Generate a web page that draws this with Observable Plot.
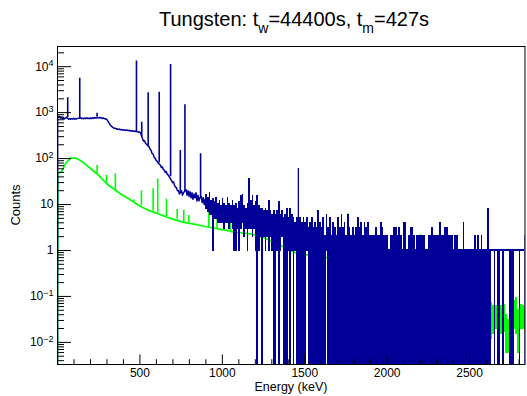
<!DOCTYPE html>
<html>
<head>
<meta charset="utf-8">
<script src="https://cdn.jsdelivr.net/npm/d3@7"></script>
<script src="https://cdn.jsdelivr.net/npm/@observablehq/plot@0.6"></script>
<style>
  html, body { margin: 0; padding: 0; background: #fff; }
  #chart { width: 527px; height: 396px; }
</style>
</head>
<body>
<div id="chart"></div>
<script>
// ---------- data ----------
// Blue spectrum: continuum part (energy keV, counts)
const blueE = [0,1,6,12,18,24,30,36,42,48,54,68,74,80,86,92,98,104,110,116,122,142,148,154,160,166,172,178,184,190,196,202,208,214,220,226,232,248,254,260,266,272,278,284,290,296,302,308,314,320,326,332,338,344,350,356,362,368,374,380,388,396,404,412,420,428,436,444,452,460,468,474,486,492,498,504,516,522,528,534,540,556,562,568,574,580,586,592,598,604,610,624,630,636,642,648,654,660,666,672,678,692,698,704,710,716,722,728,734,740,752,758,764,780,786,792,798,804,810,816,822,828,834,840,846,852,858,864,872,878,884,890,896,900];
const blueV = [0,850,800,830,760,790,740,770,730,760,790,720,745,715,740,725,750,720,745,730,750,770,740,760,735,765,740,770,745,760,735,770,745,775,750,780,760,770,790,760,775,745,765,740,735,720,690,640,580,540,510,490,470,455,460,440,445,430,438,425,430,415,425,410,418,405,412,398,405,392,398,388,385,375,380,360,270,240,245,215,205,180,160,150,128,125,108,102,92,88,80,72,64,66,58,56,50,52,45,44,40,33,30,31,26,24,23,20,20,17,20,16,18,21,16,20,15,19,14,18,13,17,14,18,12,16,12,14,15,11,14,10,13,11];
// Blue peaks: energy, continuum below, top
const bluePeakE    = [62, 135, 240, 479, 511, 550, 617, 686, 745, 773, 868];
const bluePeakBase = [780, 740, 790, 390, 300, 190, 80, 40, 18, 19, 14];
const bluePeakTop  = [2100, 5600, 975, 13300, 620, 2720, 2790, 11200, 150, 1480, 127];
// Blue noisy region: 10 keV columns from 900 keV, lowest and highest counts in each
const blueColStart = 900;
const blueLo = [
  8,7,6,6,1,5,5,4,4,4,
  4,3,4,4,3,4,3,1,1,3,
  1,3,4,2,3,1,3,3,2,3,
  1,0,1,2,0,2,1,2,1,2,
  1,0,0,1,0,1,2,0,0,0,
  1,0,1,0,1,0,0,0,0,0,
  0,1,0,0,0,0,0,0,0,0,
  0,0,0,1,0,0,0,0,0,0,
  0,0,0,0,0,0,0,0,0,0,
  0,0,0,0,0,0,0,0,0,0,
  0,0,0,0,0,0,0,0,0,0,
  0,0,0,0,0,0,0,0,0,0,
  0,0,0,0,0,0,0,0,0,0,
  0,0,0,0,0,0,0,0,0,0,
  0,0,0,0,0,0,0,0,0,0,
  0,0,0,0,0,0,0,0,0,0,
  0,0,0,0,0,0,0,0,0,0,
  0,0,0,1,1,0,1,0,0,1,
  0,1,1,1,0,0,0,1,1,1,
  0,1,1,0];
const blueHi = [
  16,14,18,12,13,11,14,10,12,9,
  13,10,9,14,10,9,12,9,10,8,
  11,15,16,9,8,10,36,12,15,9,
  11,15,9,8,8,7,8,7,12,7,
  6,7,6,7,11,6,7,5,6,8,
  5,8,6,5,4,5,58,5,4,5,
  4,5,3,4,5,3,4,3,7,4,
  3,5,2,6,3,5,2,4,3,2,
  5,3,6,3,4,2,6,3,2,3,
  2,3,5,3,4,2,4,3,4,2,
  2,2,2,3,2,2,4,3,2,2,
  2,1,2,2,3,3,2,3,2,1,
  4,4,1,2,3,3,2,1,2,2,
  2,2,2,1,1,2,2,3,2,2,
  2,2,4,2,2,3,3,2,2,2,
  1,2,2,1,1,1,4,1,1,1,
  1,1,1,2,1,2,1,2,1,1,
  1,8,1,1,1,1,1,1,1,1,
  1,1,1,1,1,1,1,1,1,1,
  1,1,1,2];

// Green spectrum: continuum part
const greenE = [0,2,24,48,78,109,129,160,190,220,250,280,311,340,372,400,432,460,493,520,553,594,630,665,700,766,820,867,920,968,1020,1069,1120,1170,1220,1261,1300,1350,1400,1454,1512,1570,1634,1700,1800,1900,2000,2100,2200,2300,2400,2500,2620];
const greenV = [0,48,51,77,102,102,96,80,65,53,43,33,26,22,18,15.5,13.3,11.5,9.5,8.5,7.4,6.6,5.9,5.3,4.8,4.1,3.8,3.5,3.2,3.0,2.75,2.5,2.4,2.3,2.05,1.85,1.6,1.3,1.05,0.86,0.8,0.75,0.7,0.6,0.45,0.35,0.27,0.2,0.15,0.12,0.09,0.07,0.05];
const greenPeakE    = [240, 297, 351, 464, 509, 580, 608, 661, 726, 766, 796, 918, 968, 1049, 1379, 1460, 1762, 2202, 2612];
const greenPeakBase = [45, 27, 19, 11.5, 9.5, 7, 6.5, 5.4, 4.8, 4.1, 3.9, 3.2, 3.0, 2.6, 1.1, 0.86, 0.5, 0.15, 0.05];
const greenPeakTop  = [71, 43, 47, 12.5, 20, 22, 36, 13, 7.8, 7.5, 5.8, 7, 4.9, 4.5, 1.8, 61, 6.3, 2.2, 2];
// Green high-energy region: 10 keV columns from 2620 keV
const greenColStart = 2620;
const greenLo = [0.02,0.012,0.015,0.02,0.02,0.02,0.02,0.015,0.02,0.017,0.006,0.006,0.02,0.02,0.02,0.02,0.015,0.006,0.02,0.02,0.02,0.02];
const greenHi = [0.07,0.07,0.06,0.05,0.06,0.05,0.05,0.06,0.065,0.065,0.04,0.03,0.05,0.05,0.05,0.08,0.09,0.05,0.05,0.065,0.06,0.05];

// Axis ticks
const xMajor = [500, 1000, 1500, 2000, 2500];
const xMinor = [100,200,300,400,600,700,800,900,1100,1200,1300,1400,1600,1700,1800,1900,2100,2200,2300,2400,2600,2700,2800];
const yMajor = [0.01, 0.1, 1, 10, 100, 1000, 10000];
const yLabels = ["10^-2", "10^-1", "1", "10", "10^2", "10^3", "10^4"];
const yMinor = [0.004,0.005,0.006,0.007,0.008,0.009,
  0.02,0.03,0.04,0.05,0.06,0.07,0.08,0.09,
  0.2,0.3,0.4,0.5,0.6,0.7,0.8,0.9,
  2,3,4,5,6,7,8,9,
  20,30,40,50,60,70,80,90,
  200,300,400,500,600,700,800,900,
  2000,3000,4000,5000,6000,7000,8000,9000,
  20000];

// ---------- layout ----------
const W = 527, H = 396;
const ML = 57, MR = 2.5, MT = 46, MB = 32;
const frameW = W - ML - MR, frameH = H - MT - MB;
const yMinV = 0.0033, yMaxV = 27500, xMaxV = 2836;
const BLUE = "#000099", GREEN = "#00ff00";
const FONT = "'Liberation Sans', Arial, Helvetica, sans-serif";
const fy = v => (v > 0 ? v : yMinV); // empty bins drop to the bottom of the frame
const idx = a => a.map((_, i) => i);

const chart = Plot.plot({
  width: W, height: H,
  marginLeft: ML, marginRight: MR, marginTop: MT, marginBottom: MB,
  x: {domain: [0, xMaxV]},
  y: {type: "log", domain: [yMinV, yMaxV]},
  style: {fontFamily: FONT, fontSize: "12px", color: "#000", background: "#fff"},
  marks: [
    // green spectrum
    Plot.line(idx(greenE), {x: i => greenE[i], y: i => fy(greenV[i]), stroke: GREEN, strokeWidth: 1.7, clip: true}),
    Plot.ruleX(idx(greenPeakE), {x: i => greenPeakE[i], y1: i => greenPeakBase[i], y2: i => greenPeakTop[i], stroke: GREEN, strokeWidth: 1.6, clip: true}),
    Plot.rect(idx(greenLo), {x1: i => greenColStart + 10 * i, x2: i => greenColStart + 10 * (i + 1),
      y1: i => fy(greenLo[i]), y2: i => fy(greenHi[i]), fill: GREEN, insetTop: -0.7, insetBottom: -0.7,
      shapeRendering: "crispEdges", clip: true}),
    // blue spectrum
    Plot.line(idx(blueE), {x: i => blueE[i], y: i => fy(blueV[i]), stroke: BLUE, strokeWidth: 1.5, clip: true}),
    Plot.ruleX(idx(bluePeakE), {x: i => bluePeakE[i], y1: i => bluePeakBase[i], y2: i => bluePeakTop[i], stroke: BLUE, strokeWidth: 1.6, clip: true}),
    Plot.rect(idx(blueLo), {x1: i => blueColStart + 10 * i, x2: i => blueColStart + 10 * (i + 1),
      y1: i => fy(blueLo[i]), y2: i => fy(blueHi[i]), fill: BLUE, insetTop: -0.7, insetBottom: -0.7,
      shapeRendering: "crispEdges", clip: true}),
    // inward ticks
    Plot.ruleX(xMinor, {insetTop: frameH - 4.75, stroke: "#000"}),
    Plot.ruleX(xMajor, {insetTop: frameH - 9.5, stroke: "#000"}),
    Plot.ruleY(yMinor, {insetRight: frameW - 7, stroke: "#000"}),
    Plot.ruleY(yMajor, {insetRight: frameW - 14, stroke: "#000"}),
    Plot.frame({stroke: "#000"}),
    Plot.axisX(xMajor, {tickSize: 0, tickPadding: 4, label: null, tickFormat: d => String(d), fontSize: 12}),
    Plot.axisY(yMajor, {tickSize: 0, tickPadding: 4, label: null, tickFormat: d => yLabels[yMajor.indexOf(d)], fontSize: 12})
  ]
});

// superscripts on the log-axis labels
d3.select(chart).selectAll('g[aria-label="y-axis tick label"] text').each(function() {
  const s = this.textContent;
  if (s.includes("^")) {
    const [b, e] = s.split("^");
    this.textContent = b;
    d3.select(this).append("tspan").attr("dy", "-0.5em").attr("font-size", "9px").text(e.replace("-", "\u2212"));
  }
});

const svg = d3.select(chart);
// title
const t = svg.append("text").attr("x", 294).attr("y", 26).attr("text-anchor", "middle")
  .attr("font-family", FONT).attr("font-size", 20).attr("fill", "#000");
t.append("tspan").text("Tungsten: t");
t.append("tspan").attr("font-size", 14).attr("dy", 7).text("w");
t.append("tspan").attr("dy", -7).text("=44400s, t");
t.append("tspan").attr("font-size", 14).attr("dy", 7).text("m");
t.append("tspan").attr("dy", -7).text("=427s");
// axis titles
svg.append("text").attr("x", 291).attr("y", 391).attr("text-anchor", "middle")
  .attr("font-family", FONT).attr("font-size", 12.5).attr("fill", "#000").text("Energy (keV)");
svg.append("text").attr("transform", "translate(20,205) rotate(-90)").attr("text-anchor", "middle")
  .attr("font-family", FONT).attr("font-size", 13).attr("fill", "#000").text("Counts");

document.getElementById("chart").appendChild(chart);
</script>
</body>
</html>
